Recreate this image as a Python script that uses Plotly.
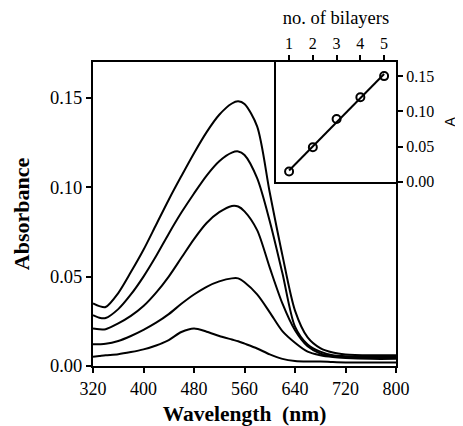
import numpy as np
import plotly.graph_objects as go

# ---- data ----
wavelength = [320, 330, 340, 360, 380, 400, 420, 440, 460, 480, 500, 520, 540, 550,
              560, 580, 600, 620, 640, 660, 680, 700, 720, 760, 800]
abs_1 = [0.0052, 0.0056, 0.0060, 0.0066, 0.0078, 0.0093, 0.0115, 0.0145, 0.0190, 0.0210,
         0.0192, 0.0168, 0.0148, 0.0138, 0.0125, 0.0098, 0.0065, 0.0040, 0.0028, 0.0025,
         0.0025, 0.0022, 0.0020, 0.0020, 0.0020]
abs_2 = [0.0121, 0.0122, 0.0124, 0.0140, 0.0168, 0.0202, 0.0242, 0.0290, 0.0348, 0.0400,
         0.0443, 0.0473, 0.0490, 0.0490, 0.0468, 0.0400, 0.0300, 0.0195, 0.0130, 0.0080,
         0.0060, 0.0050, 0.0045, 0.0040, 0.0040]
abs_3 = [0.0210, 0.0205, 0.0206, 0.0238, 0.0280, 0.0335, 0.0410, 0.0500, 0.0605, 0.0710,
         0.0800, 0.0860, 0.0895, 0.0892, 0.0865, 0.0760, 0.0550, 0.0350, 0.0200, 0.0110,
         0.0070, 0.0055, 0.0050, 0.0045, 0.0045]
abs_4 = [0.0284, 0.0270, 0.0268, 0.0318, 0.0400, 0.0500, 0.0615, 0.0740, 0.0858, 0.0965,
         0.1065, 0.1145, 0.1193, 0.1200, 0.1180, 0.1050, 0.0810, 0.0520, 0.0220, 0.0120,
         0.0080, 0.0060, 0.0055, 0.0050, 0.0050]
abs_5 = [0.0350, 0.0335, 0.0330, 0.0408, 0.0525, 0.0650, 0.0790, 0.0930, 0.1062, 0.1190,
         0.1308, 0.1405, 0.1468, 0.1480, 0.1465, 0.1340, 0.0970, 0.0620, 0.0310, 0.0160,
         0.0100, 0.0075, 0.0065, 0.0060, 0.0060]
spectra = [abs_1, abs_2, abs_3, abs_4, abs_5]

bilayers = [1, 2, 3, 4, 5]
peak_abs = [0.0145, 0.049, 0.089, 0.120, 0.150]

x_ticks = [320, 400, 480, 560, 640, 720, 800]
y_ticks = [0.00, 0.05, 0.10, 0.15]

SERIF = "Liberation Serif"

fig = go.Figure()
for s in spectra:
    fig.add_trace(go.Scatter(x=wavelength, y=s, mode="lines",
                             line=dict(color="black", width=2, shape="spline", smoothing=0.8),
                             showlegend=False, hoverinfo="skip"))

# inset: points + linear fit
slope, intercept = np.polyfit(bilayers, peak_abs, 1)
fit_x = [bilayers[0], bilayers[-1]]
fit_y = [slope * v + intercept for v in fit_x]
fig.add_trace(go.Scatter(x=fit_x, y=fit_y, mode="lines", xaxis="x2", yaxis="y2",
                         line=dict(color="black", width=2), showlegend=False))
fig.add_trace(go.Scatter(x=bilayers, y=peak_abs, mode="markers", xaxis="x2", yaxis="y2",
                         marker=dict(symbol="circle-open", size=8, color="black",
                                     line=dict(width=2, color="black")),
                         showlegend=False))

axis_common = dict(showline=True, linecolor="black", linewidth=2, showgrid=False,
                   zeroline=False, ticks="outside", tickcolor="black", tickwidth=1.5,
                   ticklen=5, automargin=False)

fig.update_layout(
    template="none",
    width=455, height=418,
    margin=dict(l=85, r=67, t=54, b=60),
    paper_bgcolor="white", plot_bgcolor="white",
    font=dict(family=SERIF, color="black", size=18),
    xaxis=dict(**axis_common, domain=[0, 1], range=[320, 800], tickvals=x_ticks,
               mirror=True, tickfont=dict(family=SERIF, size=18, color="black"),
               title=dict(text="<b>Wavelength  (nm)</b>",
                          font=dict(family=SERIF, size=21.5, color="black"), standoff=13)),
    yaxis=dict(**axis_common, domain=[0, 1], range=[0, 0.17], tickvals=y_ticks,
               tickformat=".2f", mirror=True,
               tickfont=dict(family=SERIF, size=18.5, color="black"),
               title=dict(text="<b>Absorbance</b>",
                          font=dict(family=SERIF, size=22, color="black"), standoff=14)),
    xaxis2=dict(**axis_common, domain=[0.604, 1.0], range=[0.45, 5.5], tickvals=bilayers,
                side="top", anchor="y2", mirror=True,
                tickfont=dict(family=SERIF, size=16, color="black"),
                title=dict(text="no. of bilayers",
                           font=dict(family=SERIF, size=18.5, color="black"), standoff=6)),
    yaxis2=dict(**axis_common, domain=[0.606, 1.0], range=[0, 0.17], tickvals=y_ticks,
                tickformat=".2f", side="right", anchor="x2", mirror=True,
                tickfont=dict(family=SERIF, size=16, color="black"),
                title=dict(text="A", font=dict(size=14, family="Liberation Sans",
                                               color="black"), standoff=12)),
)

fig.write_html("out.html")
